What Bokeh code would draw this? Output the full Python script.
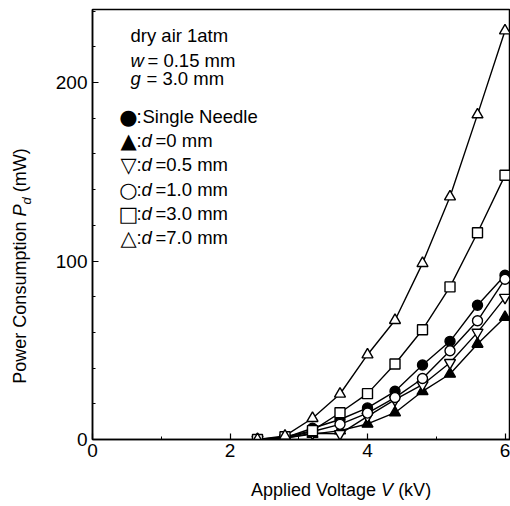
import math
from bokeh.plotting import figure
from bokeh.models import Range1d, FixedTicker, Label, Div
from bokeh.layouts import row, column
from bokeh.embed import file_html
from bokeh.resources import INLINE

# ---- data ----
voltage = [2.4, 2.8, 3.2, 3.6, 4.0, 4.4, 4.8, 5.2, 5.6, 6.0]
single_needle = [0, 1.0, 6.3, 11.2, 17.7, 27.0, 41.7, 55.0, 75.2, 92.0]
d_0 = [0, 0.8, 3.0, 5.0, 8.7, 15.0, 27.0, 36.7, 53.5, 68.5]
d_05 = [0, 0.8, 3.5, 3.2, 13.0, 22.3, 30.7, 43.0, 60.0, 79.5]
d_10 = [0, 1.0, 4.5, 8.5, 14.8, 23.5, 34.2, 49.7, 66.5, 89.8]
d_30 = [0, 1.5, 5.0, 15.0, 25.7, 42.3, 61.5, 85.5, 115.8, 148.0]
d_70 = [0, 2.0, 11.9, 25.5, 47.5, 66.8, 98.7, 136.0, 182.0, 229.0]

x_ticks = [0, 2, 4, 6]
x_minor = [1, 3, 5]
y_ticks = [0, 100, 200]
y_minor = [20, 40, 60, 80, 120, 140, 160, 180, 220, 240]

FONT = "Liberation Sans"

p = figure(width=470, height=466, output_backend="svg", toolbar_location=None,
           x_range=Range1d(0, 6.08), y_range=Range1d(0, 240.9),
           min_border_left=52, min_border_right=0, min_border_top=9, min_border_bottom=27)
p.background_fill_color = "white"
p.border_fill_color = "white"
p.grid.visible = False
p.outline_line_color = "black"
p.outline_line_width = 1.5

p.xaxis.ticker = FixedTicker(ticks=x_ticks, minor_ticks=x_minor)
p.yaxis.ticker = FixedTicker(ticks=y_ticks, minor_ticks=y_minor)
for ax in (p.xaxis[0], p.yaxis[0]):
    ax.major_tick_in = 6
    ax.major_tick_out = 0
    ax.minor_tick_in = 3
    ax.minor_tick_out = 0
    ax.axis_line_width = 1.5
    ax.major_tick_line_width = 1.2
    ax.minor_tick_line_width = 1.0
    ax.major_label_text_font = FONT
    ax.major_label_text_font_size = "19px"
    ax.major_label_text_color = "black"
p.xaxis.major_label_standoff = 4
p.yaxis.major_label_standoff = 5

series = [
    (single_needle, "circle", "black", 10),
    (d_0, "triangle", "black", 11),
    (d_05, "inverted_triangle", "white", 11),
    (d_10, "circle", "white", 10),
    (d_30, "square", "white", 10),
    (d_70, "triangle", "white", 11),
]
for vals, marker, fill, size in series:
    p.line(voltage, vals, line_color="black", line_width=1.4)
for vals, marker, fill, size in series:
    p.scatter(voltage, vals, marker=marker, size=size, fill_color=fill,
              line_color="black", line_width=1.4)

# page pixel -> data helpers for annotation placement (frame: x 92..510, y 9..439)
def vx(px):
    return (px - 92) / 68.75

def vy(py):
    return (439 - py) / 1.785

def lab(text, px, py, size="18.5px", style="normal", align="left", font=FONT):
    p.add_layout(Label(x=vx(px), y=vy(py), text=text, text_font=font,
                       text_font_size=size, text_font_style=style,
                       text_align=align, text_baseline="middle",
                       text_color="black"))

# annotation block
lab("dry air 1atm", 130, 35)
lab("w", 130, 60, style="italic")
lab("= 0.15 mm", 147, 60)
lab("g", 130, 78, style="italic")
lab("= 3.0 mm", 146, 78)

legend_rows = [
    ("\u25CF", None, "Single Needle"),
    ("\u25B2", "d", "=0 mm"),
    ("\u25BD", "d", "=0.5 mm"),
    ("\u25CB", "d", "=1.0 mm"),
    ("\u25A1", "d", "=3.0 mm"),
    ("\u25B3", "d", "=7.0 mm"),
]
row_y = [116, 140, 164, 189, 213, 237]
for (sym, dd, rest), py in zip(legend_rows, row_y):
    lab(sym, 128, py, size="21px", align="center", font="DejaVu Sans")
    lab(":", 136, py)
    if dd is None:
        lab(rest, 142, py)
    else:
        lab(dd, 141, py, style="italic")
        lab(rest, 155, py)

# axis titles as HTML (mixed italic / subscript)
ytitle_html = (
    '<div style="position:absolute; left:22px; top:266px; '
    'transform: translate(-50%, -50%) rotate(-90deg); white-space:nowrap; '
    'font-family:\'Liberation Sans\'; font-size:18px; color:black; line-height:1;">'
    'Power Consumption <i>P</i><sub style="font-size:13px;"><i>d</i></sub> (mW)</div>'
)
xtitle_html = (
    '<div style="position:absolute; left:251px; top:24px; transform: translateY(-50%); '
    'white-space:nowrap; font-family:\'Liberation Sans\'; font-size:18px; color:black; line-height:1;">'
    'Applied Voltage <i>V</i> (kV)</div>'
)
ytitle = Div(text=ytitle_html, width=40, height=466, margin=0,
             styles={"position": "relative", "overflow": "visible"})
xtitle = Div(text=xtitle_html, width=510, height=40, margin=0,
             styles={"position": "relative", "overflow": "visible"})

layout = column(row(ytitle, p, spacing=0), xtitle, spacing=0)

open("out.html", "w").write(file_html(layout, INLINE))
